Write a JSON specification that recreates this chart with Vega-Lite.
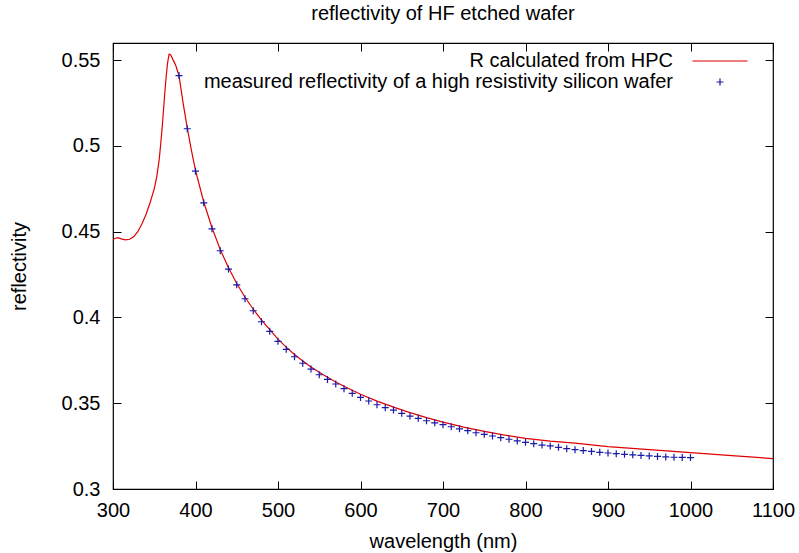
{
  "$schema": "https://vega.github.io/schema/vega-lite/v6.json",
  "width": 660,
  "height": 446,
  "autosize": {"type": "none"},
  "padding": {"left": 113, "top": 43, "right": 26, "bottom": 64},
  "background": "white",
  "config": {
    "font": "Liberation Sans",
    "view": {"stroke": "#000", "strokeWidth": 1.2},
    "axis": {"labelFont": "Liberation Sans", "titleFont": "Liberation Sans", "labelFontSize": 20, "titleFontSize": 20, "titleFontWeight": "normal", "labelColor": "#000", "titleColor": "#000", "tickColor": "#000", "domain": false, "grid": false, "tickSize": -8, "tickWidth": 1}
  },
  "title": {"text": "reflectivity of HF etched wafer", "fontSize": 20, "fontWeight": "normal", "font": "Liberation Sans", "color": "#000", "anchor": "middle", "offset": 19},
  "datasets": {
    "curve": [
      {"nm": 300, "R": 0.4455}, {"nm": 303, "R": 0.4462}, {"nm": 306, "R": 0.4465}, {"nm": 310, "R": 0.4458},
      {"nm": 315, "R": 0.4452}, {"nm": 320, "R": 0.4456}, {"nm": 325, "R": 0.447}, {"nm": 330, "R": 0.45},
      {"nm": 335, "R": 0.4545}, {"nm": 340, "R": 0.46}, {"nm": 345, "R": 0.467}, {"nm": 350, "R": 0.475},
      {"nm": 353, "R": 0.482}, {"nm": 356, "R": 0.492}, {"nm": 358, "R": 0.502}, {"nm": 360, "R": 0.513},
      {"nm": 362, "R": 0.526}, {"nm": 364, "R": 0.538}, {"nm": 366, "R": 0.548}, {"nm": 368, "R": 0.5535},
      {"nm": 370, "R": 0.553}, {"nm": 372, "R": 0.551}, {"nm": 374, "R": 0.549}, {"nm": 376, "R": 0.547},
      {"nm": 378, "R": 0.544}, {"nm": 380, "R": 0.541}, {"nm": 385, "R": 0.525}, {"nm": 390, "R": 0.5105},
      {"nm": 395, "R": 0.4975}, {"nm": 400, "R": 0.4858}, {"nm": 410, "R": 0.4673}, {"nm": 420, "R": 0.4523},
      {"nm": 430, "R": 0.4396}, {"nm": 440, "R": 0.429}, {"nm": 450, "R": 0.4198}, {"nm": 460, "R": 0.4118},
      {"nm": 470, "R": 0.4048}, {"nm": 480, "R": 0.3985}, {"nm": 490, "R": 0.3929}, {"nm": 500, "R": 0.3874},
      {"nm": 510, "R": 0.3827}, {"nm": 520, "R": 0.3784}, {"nm": 530, "R": 0.3746}, {"nm": 540, "R": 0.3711},
      {"nm": 550, "R": 0.368}, {"nm": 560, "R": 0.3651}, {"nm": 570, "R": 0.3624}, {"nm": 580, "R": 0.3599},
      {"nm": 590, "R": 0.3576}, {"nm": 600, "R": 0.3552}, {"nm": 620, "R": 0.3512}, {"nm": 640, "R": 0.3477},
      {"nm": 660, "R": 0.3445}, {"nm": 680, "R": 0.3416}, {"nm": 700, "R": 0.339}, {"nm": 725, "R": 0.3361},
      {"nm": 750, "R": 0.3336}, {"nm": 775, "R": 0.3314}, {"nm": 800, "R": 0.3295}, {"nm": 830, "R": 0.3279},
      {"nm": 860, "R": 0.3267}, {"nm": 900, "R": 0.3247}, {"nm": 950, "R": 0.3229}, {"nm": 1000, "R": 0.3212},
      {"nm": 1050, "R": 0.3195}, {"nm": 1100, "R": 0.3177}
    ],
    "measured": [
      {"nm": 380, "R": 0.541}, {"nm": 390, "R": 0.51}, {"nm": 400, "R": 0.4853}, {"nm": 410, "R": 0.4668},
      {"nm": 420, "R": 0.4517}, {"nm": 430, "R": 0.4389}, {"nm": 440, "R": 0.4282}, {"nm": 450, "R": 0.419},
      {"nm": 460, "R": 0.4109}, {"nm": 470, "R": 0.4039}, {"nm": 480, "R": 0.3975}, {"nm": 490, "R": 0.3919},
      {"nm": 500, "R": 0.3861}, {"nm": 510, "R": 0.3814}, {"nm": 520, "R": 0.3771}, {"nm": 530, "R": 0.3733},
      {"nm": 540, "R": 0.3699}, {"nm": 550, "R": 0.3666}, {"nm": 560, "R": 0.3639}, {"nm": 570, "R": 0.3612},
      {"nm": 580, "R": 0.3585}, {"nm": 590, "R": 0.3558}, {"nm": 600, "R": 0.3534}, {"nm": 610, "R": 0.3513},
      {"nm": 620, "R": 0.3491}, {"nm": 630, "R": 0.3474}, {"nm": 640, "R": 0.346}, {"nm": 650, "R": 0.3441},
      {"nm": 660, "R": 0.3425}, {"nm": 670, "R": 0.3412}, {"nm": 680, "R": 0.3398}, {"nm": 690, "R": 0.3386},
      {"nm": 700, "R": 0.3375}, {"nm": 710, "R": 0.3363}, {"nm": 720, "R": 0.3351}, {"nm": 730, "R": 0.334},
      {"nm": 740, "R": 0.3328}, {"nm": 750, "R": 0.3319}, {"nm": 760, "R": 0.3309}, {"nm": 770, "R": 0.3299},
      {"nm": 780, "R": 0.329}, {"nm": 790, "R": 0.328}, {"nm": 800, "R": 0.3272}, {"nm": 810, "R": 0.3264},
      {"nm": 820, "R": 0.3256}, {"nm": 830, "R": 0.3251}, {"nm": 840, "R": 0.3243}, {"nm": 850, "R": 0.3235},
      {"nm": 860, "R": 0.3229}, {"nm": 870, "R": 0.3224}, {"nm": 880, "R": 0.3219}, {"nm": 890, "R": 0.3214},
      {"nm": 900, "R": 0.321}, {"nm": 910, "R": 0.3206}, {"nm": 920, "R": 0.3202}, {"nm": 930, "R": 0.3199},
      {"nm": 940, "R": 0.3196}, {"nm": 950, "R": 0.3193}, {"nm": 960, "R": 0.319}, {"nm": 970, "R": 0.3187},
      {"nm": 980, "R": 0.3185}, {"nm": 990, "R": 0.3184}, {"nm": 1000, "R": 0.3183}
    ]
  },
  "layer": [
    {
      "data": {"name": "curve"},
      "mark": {"type": "line", "color": "#e00000", "strokeWidth": 1.2, "clip": true},
      "encoding": {
        "x": {"field": "nm", "type": "quantitative", "scale": {"domain": [300, 1100], "nice": false, "zero": false},
              "axis": {"orient": "bottom", "title": "wavelength (nm)", "format": "d", "values": [300, 400, 500, 600, 700, 800, 900, 1000, 1100], "labelPadding": 19, "titlePadding": 11, "labelFlush": false}},
        "y": {"field": "R", "type": "quantitative", "scale": {"domain": [0.3, 0.56], "nice": false, "zero": false},
              "axis": {"orient": "left", "title": "reflectivity", "values": [0.3, 0.35, 0.4, 0.45, 0.5, 0.55], "format": "~g", "labelPadding": 21, "titlePadding": 32}}
      }
    },
    {
      "data": {"name": "measured"},
      "transform": [{"calculate": "'measured reflectivity of a high resistivity silicon wafer'", "as": "series"}],
      "mark": {"type": "point", "filled": false, "strokeWidth": 1.2, "size": 49, "opacity": 1},
      "encoding": {
        "x": {"field": "nm", "type": "quantitative", "axis": {"orient": "top", "labels": false, "title": null, "values": [300, 400, 500, 600, 700, 800, 900, 1000, 1100]}},
        "y": {"field": "R", "type": "quantitative", "axis": {"orient": "right", "labels": false, "title": null, "values": [0.3, 0.35, 0.4, 0.45, 0.5, 0.55]}},
        "color": {"field": "series", "type": "nominal",
                  "scale": {"domain": ["R calculated from HPC", "measured reflectivity of a high resistivity silicon wafer"], "range": ["#e00000", "#1a1aa8"]},
                  "legend": {"title": null, "orient": "none", "legendX": 597, "legendY": 8, "labelAlign": "right", "labelOffset": -57, "labelLimit": 0, "labelFontSize": 20, "labelFont": "Liberation Sans", "labelColor": "#000", "symbolSize": 49, "symbolStrokeWidth": 1.2, "rowPadding": 1}},
        "shape": {"field": "series", "type": "nominal",
                  "scale": {"domain": ["R calculated from HPC", "measured reflectivity of a high resistivity silicon wafer"], "range": ["M-7.86,0H7.86", "M-1,0H1M0,-1V1"]},
                  "legend": {"title": null, "orient": "none", "legendX": 597, "legendY": 8, "labelAlign": "right", "labelOffset": -57, "labelLimit": 0, "labelFontSize": 20, "labelFont": "Liberation Sans", "labelColor": "#000", "symbolSize": 49, "symbolStrokeWidth": 1.2, "rowPadding": 1}}
      }
    }
  ]
}
